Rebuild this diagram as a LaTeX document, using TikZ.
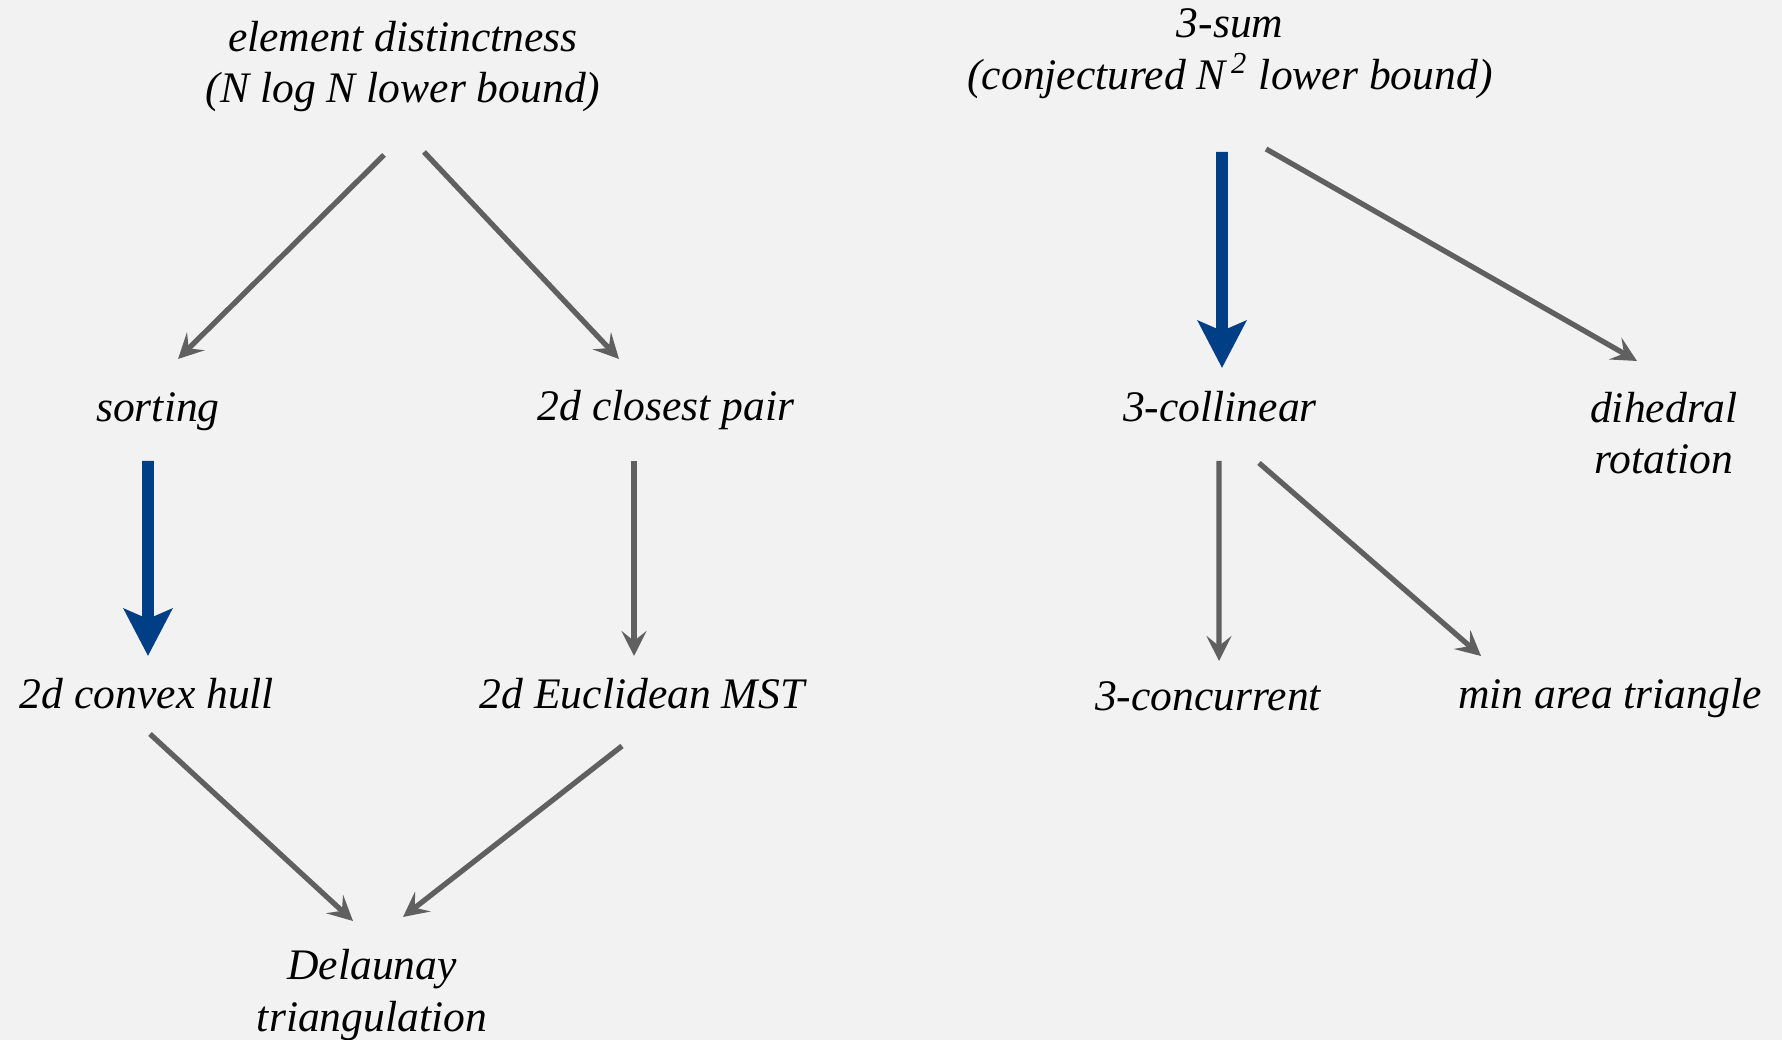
\documentclass[tikz,border=0pt]{standalone}
\usepackage{fontspec}
\setmainfont{Liberation Serif}
\usetikzlibrary{positioning}
\usetikzlibrary{arrows.meta}
\definecolor{sfondo}{HTML}{F2F2F2}
\definecolor{grigio}{HTML}{606060}
\definecolor{bluscuro}{HTML}{003F86}

\begin{document}
\begin{tikzpicture}[lbl/.style={font=\fontsize{12.4}{14.7}\selectfont\itshape,align=center,inner sep=0pt,outer sep=0pt},
    gry/.style={draw=grigio,line width=1.5pt,-{Stealth[length=2.5mm,width=2.5mm,inset=1mm]}},
    forte/.style={draw=bluscuro,fill=bluscuro,line width=3.4pt,-{Stealth[length=4.7mm,width=4.8mm,inset=1mm]}}]
    \fill[sfondo] (0,0) rectangle (17.82,10.40);
    \useasboundingbox (0,0) rectangle (17.82,10.40);
    %
    \node[lbl](ed) at (4.03,9.735){element distinctness\\(N log N lower bound)};
    \node[lbl](tsum) at (12.30,9.865){3-sum\\(conjectured N\textsuperscript{\,2} lower bound)};
    %
    \node[lbl](sorting) at (1.58,6.285){sorting};
    \node[lbl](cp) at (6.66,6.295){2d closest pair};
    \node[lbl](coll) at (12.20,6.33){3-collinear};
    \node[lbl](dihed) at (16.64,6.07){dihedral\\rotation};
    %
    \node[lbl](hull) at (1.47,3.46){2d convex hull};
    \node[lbl](mst) at (6.42,3.46){2d Euclidean MST};
    \node[lbl](conc) at (12.08,3.44){3-concurrent};
    \node[lbl](minarea) at (16.10,3.415){min area triangle};
    %
    \node[lbl](delaunay) at (3.72,0.45){Delaunay\\triangulation};
    %
    \draw[gry] ([shift={(-0.19,-0.885)}]ed.center) -- ([shift={(0.20,0.525)}]sorting.center);
    \draw[gry] ([shift={(0.21,-0.855)}]ed.center) -- ([shift={(-0.47,0.515)}]cp.center);
    \draw[forte] ([shift={(-0.10,-0.495)}]sorting.center) -- ([shift={(0.01,0.38)}]hull.center);
    \draw[gry] ([shift={(-0.32,-0.505)}]cp.center) -- ([shift={(-0.08,0.38)}]mst.center);
    \draw[gry] ([shift={(0.03,-0.40)}]hull.center) -- ([shift={(-0.19,0.74)}]delaunay.center);
    \draw[gry] ([shift={(-0.20,-0.52)}]mst.center) -- ([shift={(0.31,0.78)}]delaunay.center);
    %
    \draw[forte] ([shift={(-0.08,-0.985)}]tsum.center) -- ([shift={(0.02,0.39)}]coll.center);
    \draw[gry] ([shift={(0.36,-0.955)}]tsum.center) -- ([shift={(-0.27,0.72)}]dihed.center);
    \draw[gry] ([shift={(-0.01,-0.54)}]coll.center) -- ([shift={(0.11,0.35)}]conc.center);
    \draw[gry] ([shift={(0.39,-0.56)}]coll.center) -- ([shift={(-1.29,0.425)}]minarea.center);
    %
\end{tikzpicture}
\end{document}
